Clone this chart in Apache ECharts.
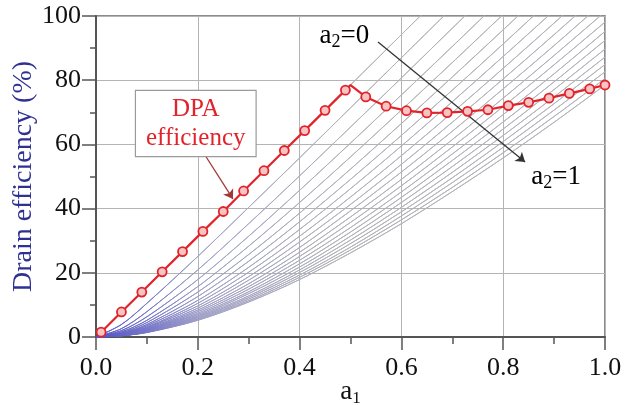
<!DOCTYPE html>
<html>
<head>
<meta charset="utf-8">
<script src="https://cdn.jsdelivr.net/npm/echarts@6/dist/echarts.min.js"></script>
<style>
  html, body { margin: 0; padding: 0; background: #fff; }
  #chart { width: 635px; height: 405px; }
</style>
</head>
<body>
<div id="chart"></div>
<script>
// DPA efficiency (red line with markers)
const dpaA1 = [0.01, 0.05, 0.09, 0.13, 0.17, 0.21, 0.25, 0.29, 0.33, 0.37, 0.41, 0.45, 0.49, 0.5,
  0.53, 0.57, 0.61, 0.65, 0.69, 0.73, 0.77, 0.81, 0.85, 0.89, 0.93, 0.97, 1.0];
const dpaEff = [1.5, 7.8, 14.0, 20.3, 26.6, 32.9, 39.1, 45.5, 51.8, 58.1, 64.3, 70.6, 76.9, 78.5,
  74.8, 71.9, 70.5, 69.8, 69.9, 70.3, 70.8, 72.1, 73.1, 74.4, 75.9, 77.3, 78.5];
const dpaNoMarker = [0.5];

// background family, a2 = 0 ... 1
const a2Values = [0, 0.05, 0.1, 0.15, 0.2, 0.25, 0.3, 0.35, 0.4, 0.45, 0.5,
  0.55, 0.6, 0.65, 0.7, 0.75, 0.8, 0.85, 0.9, 0.95, 1.0];
const curveA1 = [0, 0.05, 0.1, 0.2, 0.3, 0.4, 0.5, 0.6, 0.7, 0.8, 0.9, 1.0];
const curveEff = [
  [0, 7.9, 15.7, 31.4, 47.1, 62.8, 78.5, 94.2, 109.9],
  [0, 3.9, 10.5, 25.1, 40.4, 55.8, 71.4, 87.0, 102.6],
  [0, 2.6, 7.9, 20.9, 35.3, 50.2, 65.4, 80.7, 96.2, 111.6],
  [0, 2.0, 6.3, 17.9, 31.4, 45.7, 60.4, 75.4, 90.5, 105.8],
  [0, 1.6, 5.2, 15.7, 28.3, 41.9, 56.1, 70.7, 85.5, 100.5],
  [0, 1.3, 4.5, 14.0, 25.7, 38.6, 52.3, 66.5, 81.0, 95.7, 110.6],
  [0, 1.1, 3.9, 12.6, 23.6, 35.9, 49.1, 62.8, 76.9, 91.3, 106.0],
  [0, 1.0, 3.5, 11.4, 21.7, 33.5, 46.2, 59.5, 73.3, 87.4, 101.7],
  [0, 0.9, 3.1, 10.5, 20.2, 31.4, 43.6, 56.5, 69.9, 83.7, 97.8, 112.1],
  [0, 0.8, 2.9, 9.7, 18.8, 29.6, 41.3, 53.8, 66.9, 80.4, 94.2, 108.3],
  [0, 0.7, 2.6, 9.0, 17.7, 27.9, 39.3, 51.4, 64.1, 77.3, 90.8, 104.7],
  [0, 0.7, 2.4, 8.4, 16.6, 26.4, 37.4, 49.1, 61.5, 74.4, 87.7, 101.3],
  [0, 0.6, 2.2, 7.9, 15.7, 25.1, 35.7, 47.1, 59.2, 71.8, 84.8, 98.1],
  [0, 0.6, 2.1, 7.4, 14.9, 23.9, 34.1, 45.2, 57.0, 69.3, 82.0, 95.2],
  [0, 0.5, 2.0, 7.0, 14.1, 22.8, 32.7, 43.5, 55.0, 67.0, 79.5, 92.4],
  [0, 0.5, 1.8, 6.6, 13.5, 21.8, 31.4, 41.9, 53.1, 64.8, 77.1, 89.7],
  [0, 0.5, 1.7, 6.3, 12.8, 20.9, 30.2, 40.4, 51.3, 62.8, 74.8, 87.2],
  [0, 0.4, 1.7, 6.0, 12.3, 20.1, 29.1, 39.0, 49.6, 60.9, 72.7, 84.9],
  [0, 0.4, 1.6, 5.7, 11.8, 19.3, 28.0, 37.7, 48.1, 59.1, 70.7, 82.6],
  [0, 0.4, 1.5, 5.5, 11.3, 18.6, 27.1, 36.5, 46.6, 57.4, 68.7, 80.5],
  [0, 0.4, 1.4, 5.2, 10.9, 17.9, 26.2, 35.3, 45.3, 55.8, 66.9, 78.5]
];

const xTicks = ['0.0', '0.2', '0.4', '0.6', '0.8', '1.0'];

const serif = "'Liberation Serif', 'Times New Roman', serif";
const red = '#e3232b';

const chart = echarts.init(document.getElementById('chart'));

const familySeries = curveEff.map((ys, i) => ({
  name: 'a2=' + a2Values[i],
  type: 'line',
  silent: true,
  showSymbol: false,
  smooth: 0.3,
  z: 1,
  lineStyle: {
    width: 1,
    color: new echarts.graphic.LinearGradient(96, 0, 330, 0, [
      { offset: 0, color: '#5050c8' },
      { offset: 0.45, color: '#a0a0c8' },
      { offset: 1, color: '#b2b2b8' }
    ], true)
  },
  data: ys.map((v, j) => [curveA1[j], v])
}));

const dpaSeries = {
  name: 'DPA efficiency',
  type: 'line',
  z: 5,
  symbol: 'circle',
  symbolSize: 9,
  lineStyle: { color: red, width: 2.2 },
  itemStyle: { color: '#f7c4c4', borderColor: red, borderWidth: 1.8 },
  data: dpaA1.map((a, i) => {
    const item = { value: [a, dpaEff[i]] };
    if (dpaNoMarker.includes(a)) item.symbol = 'none';
    return item;
  }),
  markLine: {
    silent: true,
    animation: false,
    label: { show: false },
    symbol: ['none', 'arrow'],
    symbolSize: 9,
    data: [
      [{ coord: [0.554, 91.9], lineStyle: { color: '#333', width: 1.3, type: 'solid' } },
       { coord: [0.843, 54.5] }],
      [{ coord: [0.214, 56.7], lineStyle: { color: '#a03838', width: 1.3, type: 'solid' } },
       { coord: [0.269, 43.0] }]
    ]
  }
};

const option = {
  animation: false,
  backgroundColor: '#fff',
  grid: {
    left: 96, right: 30, top: 16, bottom: 68,
    outerBoundsMode: 'none',
    show: true, borderColor: '#666', borderWidth: 1.5
  },
  xAxis: {
    type: 'value',
    min: 0, max: 1, interval: 0.2,
    name: 'a{s|1}',
    nameLocation: 'middle',
    nameGap: 39,
    nameMoveOverlap: false,
    nameTextStyle: {
      fontFamily: serif, fontSize: 27, color: '#111',
      rich: { s: { fontFamily: serif, fontSize: 17, color: '#111', verticalAlign: 'bottom', padding: [14, 0, 0, 0] } }
    },
    axisLine: { lineStyle: { color: '#555', width: 2 } },
    axisTick: { length: 13, lineStyle: { color: '#555', width: 1.5 } },
    minorTick: { show: true, splitNumber: 2, length: 7, lineStyle: { color: '#555', width: 1.5 } },
    splitLine: { show: true, lineStyle: { color: '#b4b4b4', width: 1 } },
    axisLabel: {
      fontFamily: serif, fontSize: 26, color: '#111', margin: 31,
      verticalAlign: 'middle',
      formatter: v => xTicks[Math.round(v / 0.2)]
    }
  },
  yAxis: {
    type: 'value',
    min: 0, max: 100, interval: 20,
    name: 'Drain efficiency (%)',
    nameLocation: 'middle',
    nameGap: 58,
    nameMoveOverlap: false,
    nameTextStyle: { fontFamily: serif, fontSize: 28, color: '#2e3192' },
    axisLine: { lineStyle: { color: '#555', width: 2 } },
    axisTick: { length: 14, lineStyle: { color: '#555', width: 1.5 } },
    minorTick: { show: true, splitNumber: 2, length: 6, lineStyle: { color: '#555', width: 1.5 } },
    splitLine: { show: true, lineStyle: { color: '#b4b4b4', width: 1 } },
    axisLabel: { fontFamily: serif, fontSize: 26, color: '#111', margin: 15 }
  },
  series: familySeries.concat([dpaSeries])
};

chart.setOption(option);

// text annotations, placed from data coordinates
const px = (a, e) => chart.convertToPixel({ gridIndex: 0 }, [a, e]);
const subRich = {
  m: { fontFamily: serif, fontSize: 27, color: '#111' },
  s: { fontFamily: serif, fontSize: 18, color: '#111', verticalAlign: 'bottom', padding: [12, 0, 0, 0] }
};
const p0 = px(0.488, 93.8);
const p1 = px(0.904, 49.8);
const pBox = px(0.196, 66.5);

chart.setOption({
  graphic: [
    {
      type: 'text', x: p0[0], y: p0[1], z: 10,
      style: { text: '{m|a}{s|2}{m|=0}', rich: subRich, align: 'center', verticalAlign: 'middle' }
    },
    {
      type: 'text', x: p1[0], y: p1[1], z: 10,
      style: { text: '{m|a}{s|2}{m|=1}', rich: subRich, align: 'center', verticalAlign: 'middle' }
    },
    {
      type: 'text', x: pBox[0], y: pBox[1], z: 10,
      style: {
        text: 'DPA\nefficiency',
        fontFamily: serif, fontSize: 25, lineHeight: 29, fill: red,
        align: 'center', verticalAlign: 'middle',
        backgroundColor: '#fff', borderColor: '#9a9a9a', borderWidth: 1.2,
        padding: [3, 10, 4, 10]
      }
    }
  ]
});
</script>
</body>
</html>
